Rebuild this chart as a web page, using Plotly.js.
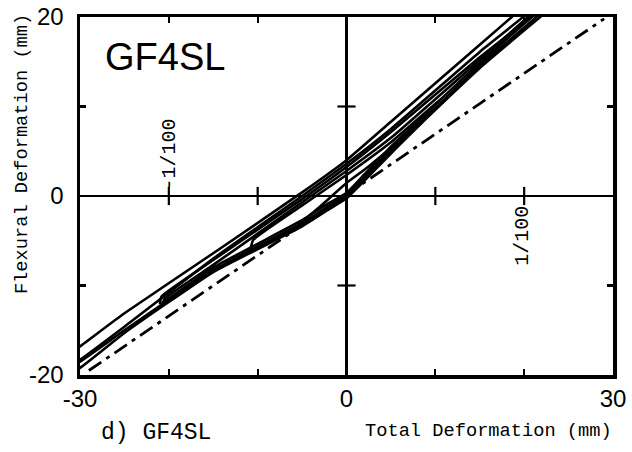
<!DOCTYPE html>
<html>
<head>
<meta charset="utf-8">
<script src="https://cdn.plot.ly/plotly-3.0.1.min.js"></script>
<style>html,body{margin:0;padding:0;background:#fff;}#chart{width:632px;height:452px;}</style>
</head>
<body>
<div id="chart"></div>
<script>
// ---- Tick values and labels ----
const xTickVals = [-30, -20, -10, 0, 10, 20, 30];
const xTickText = ['-30', '', '', '0', '', '', '30'];
const yTickVals = [-20, -10, 0, 10, 20];
const yTickText = ['-20', '', '0', '', '20'];
const xCrossTicks = [-20, -10, 10, 20];
const yCrossTicks = [-10, 10];

// ---- Hysteresis cycles (Total deformation x, Flexural deformation y), mm ----
// Cycle at about +-5 mm
const cyc5X = [5.3, 2.5, 0, -3, -5.5, -5.6, -3, 0, 2.5, 5.3];
const cyc5Y = [5.6, 3.3, 1.45, -1.2, -3.3, -3.6, -2.0, -0.1, 2.6, 5.6];
// Cycle at about +-10 mm
const cyc10X = [10.6, 5, 0, -5, -10.5, -10.8, -5, -2, 0, 2, 5, 10.6];
const cyc10Y = [10.8, 6.0, 2.35, -1.05, -4.9, -6.2, -3.1, -1.1, 0.1, 2.1, 5.2, 10.8];
// Cycles at about 1/100 (+-20 mm)
const cyc20aX = [21.2, 15, 5, 0, -5, -15, -20.8, -21.0, -15, -5, -2, 0, 2, 5, 15, 21.2];
const cyc20aY = [20.3, 15.5, 7.15, 3.24, -0.35, -7.15, -11.2, -12.0, -8.0, -2.7, -0.8, 0.34, 2.4, 5.5, 14.9, 20.3];
const cyc20bX = [20.9, 15, 5, 0, -5, -15, -20.5, -20.7, -15, -5, -2, 0, 2, 5, 15, 20.9];
const cyc20bY = [20.4, 15.2, 6.5, 2.8, -0.7, -7.7, -11.5, -12.2, -8.4, -3.2, -1.3, -0.1, 1.9, 5.0, 14.6, 20.4];
// Largest cycles (beyond the plotted range, clipped by the frame)
const cyc30aX = [35, 20, 15, 5, 0, -5, -15, -25, -30, -33, -34, -30, -25, -15, -5, -2, 0, 2, 5, 15, 21.8, 35];
const cyc30aY = [33.8, 21.2, 16.9, 8.3, 4.0, 0.4, -6.4, -13.1, -16.8, -18.9, -20.4, -18.5, -15.0, -8.3, -3.0, -1.3, -0.2, 1.8, 4.9, 14.3, 20.0, 31.0];
const cyc30bX = [35, 20, 15, 5, 0, -5, -15, -25, -30, -33, -34, -30, -25, -15, -5, -2, 0, 2, 5, 15, 21.5, 35];
const cyc30bY = [33.2, 20.1, 16.1, 7.5, 3.6, 0.0, -7.0, -14.6, -18.3, -20.3, -21.4, -19.2, -15.3, -8.5, -3.4, -1.5, -0.25, 1.7, 4.75, 14.5, 20.1, 31.5];
// Dash-dot reference line
const refX = [-29, 29];
const refY = [-19.5, 19.8];

const cycles = [
  [cyc5X, cyc5Y], [cyc10X, cyc10Y], [cyc20aX, cyc20aY],
  [cyc20bX, cyc20bY], [cyc30aX, cyc30aY], [cyc30bX, cyc30bY]
];

const traces = cycles.map(c => ({
  x: c[0], y: c[1], type: 'scatter', mode: 'lines',
  line: {color: 'black', width: 2.6, shape: 'spline', smoothing: 0.4}, hoverinfo: 'skip'
}));

traces.push({
  x: refX, y: refY, type: 'scatter', mode: 'lines',
  line: {color: 'black', width: 2.8, dash: '15px,6px,4px,6px'}, hoverinfo: 'skip'
});

// crossing ticks on the zero lines
traces.push({
  x: xCrossTicks, y: xCrossTicks.map(() => 0), type: 'scatter', mode: 'markers',
  marker: {symbol: 'line-ns', size: 13, line: {width: 2.2, color: 'black'}}, hoverinfo: 'skip'
});
traces.push({
  x: yCrossTicks.map(() => 0), y: yCrossTicks, type: 'scatter', mode: 'markers',
  marker: {symbol: 'line-ew', size: 13, line: {width: 2.2, color: 'black'}}, hoverinfo: 'skip'
});

const monoFont = 'Liberation Mono, Courier New, monospace';
const sansFont = 'Liberation Sans, Arial, sans-serif';

const axisCommon = {
  showline: true, linewidth: 3.5, linecolor: 'black', mirror: 'ticks',
  ticks: 'inside', ticklen: 6, tickwidth: 2.2, tickcolor: 'black',
  showgrid: false, zeroline: true, zerolinewidth: 2.2, zerolinecolor: 'black',
  tickfont: {family: sansFont, size: 24, color: 'black'}, fixedrange: true
};

const layout = {
  width: 632, height: 452,
  margin: {l: 80, r: 19, t: 17, b: 77},
  paper_bgcolor: 'white', plot_bgcolor: 'white',
  showlegend: false,
  xaxis: Object.assign({}, axisCommon, {range: [-30, 30], tickvals: xTickVals, ticktext: xTickText, ticklabelstandoff: 0}),
  yaxis: Object.assign({}, axisCommon, {range: [-20, 20], tickvals: yTickVals, ticktext: yTickText, ticklabelstandoff: 8}),
  annotations: [
    {text: 'GF4SL', xref: 'x', yref: 'y', x: -20.4, y: 15.5, showarrow: false,
     font: {family: sansFont, size: 38, color: 'black'}},
    {text: '-1/100', xref: 'x', yref: 'y', x: -19.9, y: 4.6, showarrow: false, textangle: -90,
     font: {family: monoFont, size: 20, color: 'black'}},
    {text: '1/100', xref: 'x', yref: 'y', x: 19.8, y: -4.4, showarrow: false, textangle: -90,
     font: {family: monoFont, size: 20, color: 'black'}},
    {text: 'Total Deformation (mm)', xref: 'paper', yref: 'paper', x: 0.7655, y: -0.1564,
     xanchor: 'center', yanchor: 'middle', showarrow: false,
     font: {family: monoFont, size: 18.7, color: 'black'}},
    {text: 'd) GF4SL', xref: 'paper', yref: 'paper', x: 0.1426, y: -0.162,
     xanchor: 'center', yanchor: 'middle', showarrow: false,
     font: {family: monoFont, size: 23, color: 'black'}},
    {text: 'Flexural Deformation (mm)', xref: 'paper', yref: 'paper', x: -0.1088, y: 0.617,
     xanchor: 'center', yanchor: 'middle', showarrow: false, textangle: -90,
     font: {family: monoFont, size: 18.7, color: 'black'}}
  ]
};

Plotly.newPlot('chart', traces, layout, {staticPlot: true, displayModeBar: false});
</script>
</body>
</html>
